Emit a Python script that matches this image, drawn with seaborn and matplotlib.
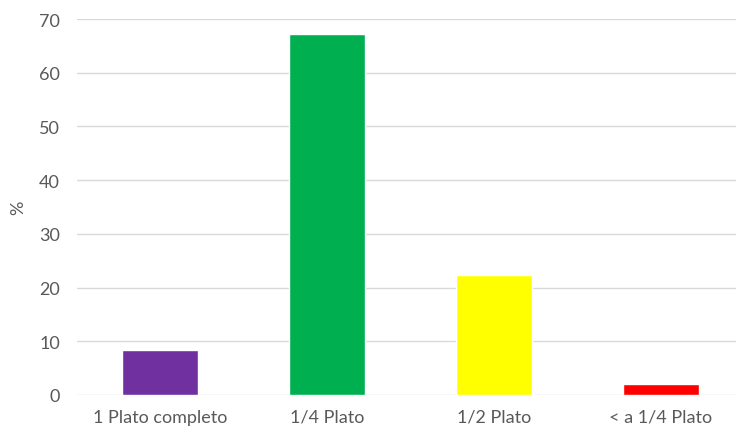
import matplotlib
matplotlib.use("Agg")
import matplotlib.pyplot as plt
import seaborn as sns
import pandas as pd

categories = ["1 Plato completo", "1/4 Plato", "1/2 Plato", "< a 1/4 Plato"]
values = [8.4, 67.2, 22.3, 2.1]
colors = ["#7030A0", "#00B050", "#FFFF00", "#FF0000"]
yticks = [0, 10, 20, 30, 40, 50, 60, 70]

sns.set_theme(style="white")
plt.rcParams["font.family"] = ["Lato", "DejaVu Sans"]

df = pd.DataFrame({"cat": categories, "val": values})

fig = plt.figure(figsize=(7.36, 4.27), dpi=100)
ax = fig.add_axes([76.5 / 736, 31 / 427, 668 / 736, 376 / 427])
sns.barplot(data=df, x="cat", y="val", hue="cat", palette=colors, legend=False,
            width=0.455, ax=ax, saturation=1)
ax.set_ylim(0, 70)
ax.set_xlim(-0.5, 3.5)
ax.set_yticks(yticks)
ax.set_yticklabels([str(t) for t in yticks])
ax.yaxis.grid(True, color="#d9d9d9", linewidth=1)
ax.set_axisbelow(True)
for s in ax.spines.values():
    s.set_visible(False)
ax.tick_params(axis="both", length=0, labelsize=13, colors="#595959")
ax.tick_params(axis="y", pad=12)
ax.tick_params(axis="x", pad=10)
ax.set_xlabel("")
ax.set_ylabel("%", color="#595959", fontsize=13)
ax.yaxis.set_label_coords((26 - 76.5) / 668, 0.5)
fig.savefig("out.png", dpi=100)
